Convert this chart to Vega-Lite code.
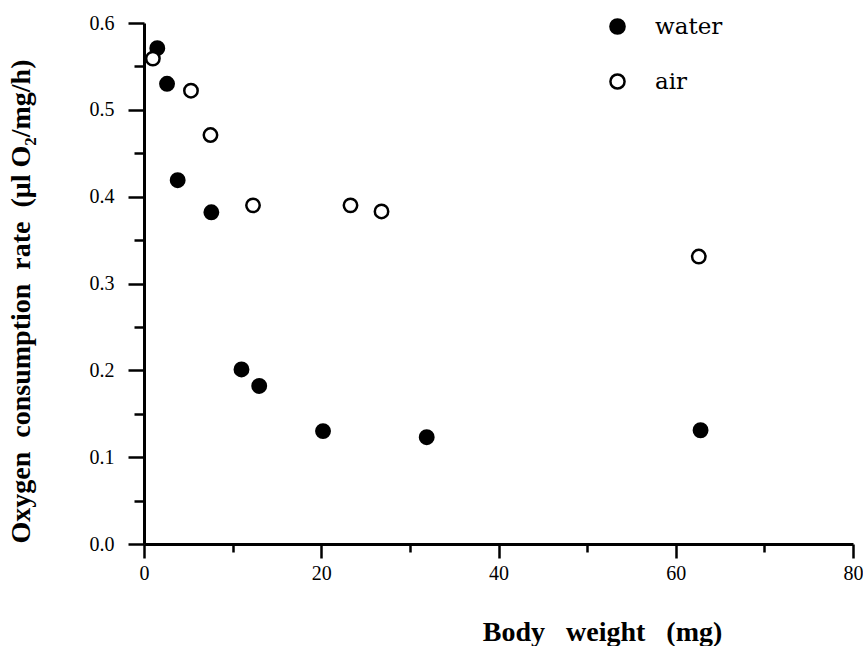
{
  "$schema": "https://vega.github.io/schema/vega-lite/v6.json",
  "width": 709,
  "height": 521,
  "autosize": {"type": "none"},
  "padding": {"left": 144, "top": 23, "right": 10, "bottom": 102},
  "background": "white",
  "config": {"view": {"stroke": null}},
  "data": {
    "values": [
      {"medium": "water", "weight": 1.5, "rate": 0.571},
      {"medium": "water", "weight": 2.6, "rate": 0.53},
      {"medium": "water", "weight": 3.8, "rate": 0.419},
      {"medium": "water", "weight": 7.6, "rate": 0.382},
      {"medium": "water", "weight": 11.0, "rate": 0.201},
      {"medium": "water", "weight": 13.0, "rate": 0.182},
      {"medium": "water", "weight": 20.2, "rate": 0.13},
      {"medium": "water", "weight": 31.9, "rate": 0.123},
      {"medium": "water", "weight": 62.8, "rate": 0.131},
      {"medium": "air", "weight": 1.0, "rate": 0.559},
      {"medium": "air", "weight": 5.3, "rate": 0.522},
      {"medium": "air", "weight": 7.5, "rate": 0.471},
      {"medium": "air", "weight": 12.3, "rate": 0.39},
      {"medium": "air", "weight": 23.3, "rate": 0.39},
      {"medium": "air", "weight": 26.8, "rate": 0.383},
      {"medium": "air", "weight": 62.6, "rate": 0.331}
    ]
  },
  "mark": {"type": "point", "shape": "circle", "filled": true, "stroke": "black", "strokeWidth": 2.5, "size": 180, "opacity": 1},
  "encoding": {
    "x": {
      "field": "weight",
      "type": "quantitative",
      "scale": {"domain": [0, 80], "nice": false},
      "axis": {
        "values": [0, 10, 20, 30, 40, 50, 60, 70, 80],
        "labelExpr": "datum.value % 20 === 0 ? datum.label : ''",
        "tickSize": {"condition": {"test": "datum.value % 20 === 0", "value": 14}, "value": 8},
        "grid": false,
        "domainColor": "black",
        "domainWidth": 3,
        "tickColor": "black",
        "tickWidth": 2.5,
        "labelFont": "Liberation Serif",
        "labelFontSize": 20,
        "labelColor": "black",
        "labelPadding": 5,
        "labelFlush": false,
        "title": "Body\u00a0\u00a0\u00a0weight\u00a0\u00a0\u00a0(mg)",
        "titleFont": "Liberation Serif",
        "titleFontSize": 28,
        "titleFontWeight": "bold",
        "titleColor": "black",
        "titleX": 458,
        "titleY": 96,
        "titleBaseline": "alphabetic"
      }
    },
    "y": {
      "field": "rate",
      "type": "quantitative",
      "scale": {"domain": [0, 0.6], "nice": false},
      "axis": {
        "values": [0, 0.05, 0.1, 0.15, 0.2, 0.25, 0.3, 0.35, 0.4, 0.45, 0.5, 0.55, 0.6],
        "format": ".1f",
        "labelExpr": "abs(datum.value * 10 - round(datum.value * 10)) < 0.001 ? datum.label : ''",
        "tickSize": {"condition": {"test": "abs(datum.value * 10 - round(datum.value * 10)) < 0.001", "value": 16}, "value": 10},
        "grid": false,
        "domainColor": "black",
        "domainWidth": 3,
        "tickColor": "black",
        "tickWidth": 2.5,
        "labelFont": "Liberation Serif",
        "labelFontSize": 20,
        "labelColor": "black",
        "labelPadding": 14,
        "labelFlush": false,
        "title": "Oxygen\u00a0\u00a0consumption\u00a0\u00a0rate\u00a0\u00a0(μl O₂/mg/h)",
        "titleFont": "Liberation Serif",
        "titleFontSize": 28,
        "titleFontWeight": "bold",
        "titleColor": "black",
        "titleX": -109,
        "titleY": 278
      }
    },
    "fill": {
      "field": "medium",
      "type": "nominal",
      "scale": {"domain": ["water", "air"], "range": ["black", "white"]},
      "legend": {
        "title": null,
        "orient": "none",
        "legendX": 462,
        "legendY": -8,
        "symbolType": "circle",
        "symbolSize": 200,
        "symbolStrokeColor": "black",
        "symbolStrokeWidth": 2.5,
        "labelFont": "DejaVu Serif",
        "labelFontSize": 23,
        "labelColor": "black",
        "labelOffset": 26,
        "rowPadding": 30
      }
    }
  }
}
